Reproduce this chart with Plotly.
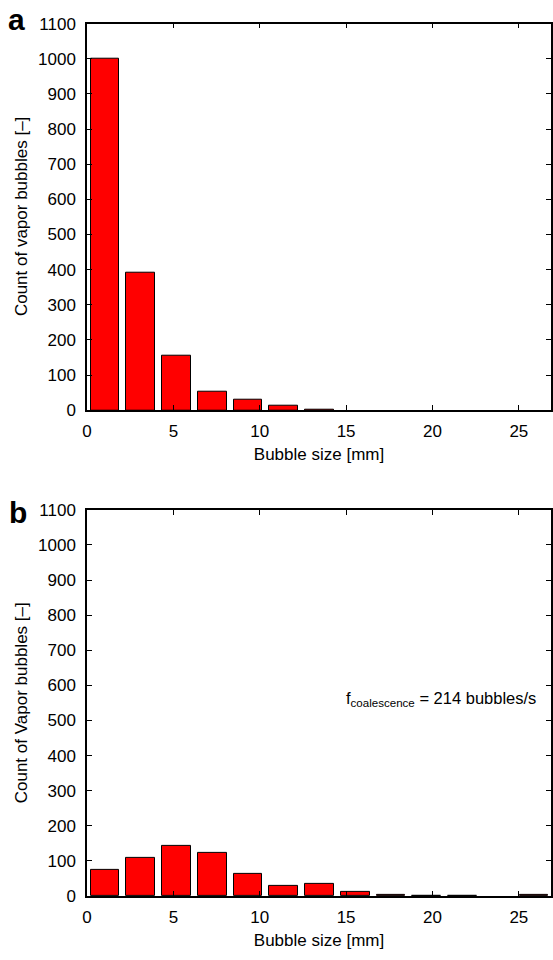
import plotly.graph_objects as go

# ---- data ----
bubble_size_mm = [1.04, 3.11, 5.18, 7.25, 9.32, 11.39, 13.46, 15.53, 17.60, 19.67, 21.74, 23.81, 25.88]
count_a = [1000, 391, 154, 52, 29, 12, 2, 0, 0, 0, 0, 0, 0]
count_b = [74, 110, 142, 124, 63, 29, 35, 11, 3, 1, 2, 0, 3]
x_tick_vals = [0, 5, 10, 15, 20, 25]
y_tick_vals = [0, 100, 200, 300, 400, 500, 600, 700, 800, 900, 1000, 1100]
x_title = "Bubble size [mm]"
y_title_a = "Count of vapor bubbles [\u2013]"
y_title_b = "Count of Vapor bubbles [\u2013]"
annotation_b = "f<sub>coalescence</sub> = 214 bubbles/s"

BAR_W = 1.66
FONT = "Liberation Sans, Arial, Helvetica, sans-serif"
H = 960.0
L = 87.0
PW = 553.0 - L

def py(px):  # pixel row -> paper y
    return 1 - px / H

def px_(x):  # pixel column -> paper x
    return (x - L) / PW

fig = go.Figure()
for vals, xa, ya in [(count_a, "x", "y"), (count_b, "x2", "y2")]:
    fig.add_trace(go.Bar(
        x=bubble_size_mm, y=vals, width=[BAR_W] * len(vals),
        marker=dict(color="#ff0000",
                    line=dict(color="black", width=[1 if v > 0 else 0 for v in vals])),
        xaxis=xa, yaxis=ya, showlegend=False, hoverinfo="skip"))

axis_common = dict(showline=True, linecolor="black", linewidth=1.5, mirror="ticks",
                   ticks="inside", ticklen=5, tickwidth=1, tickcolor="black",
                   showgrid=False, zeroline=False,
                   tickfont=dict(size=17, family=FONT, color="black"))

xr = [0, 26.86]
fig.update_layout(
    width=553, height=960,
    margin=dict(l=87, r=0, t=0, b=0),
    paper_bgcolor="white", plot_bgcolor="white",
    font=dict(family=FONT, size=17, color="black"),
    bargap=0,
    xaxis=dict(domain=[0, 1], range=xr, tickvals=x_tick_vals, anchor="y",
               ticklabelstandoff=5,
               title=dict(text=x_title, standoff=8, font=dict(size=17)), **axis_common),
    yaxis=dict(domain=[py(409.3), py(15)], range=[0, 1100], tickvals=y_tick_vals, anchor="x",
               ticklabelstandoff=6, **axis_common),
    xaxis2=dict(domain=[0, 1], range=xr, tickvals=x_tick_vals, anchor="y2",
                ticklabelstandoff=5,
                title=dict(text=x_title, standoff=8, font=dict(size=17)), **axis_common),
    yaxis2=dict(domain=[py(905), py(511)], range=[0, 1100], tickvals=y_tick_vals, anchor="x2",
                ticklabelstandoff=6, **axis_common),
)

# y-axis titles as rotated annotations
fig.add_annotation(text=y_title_a, xref="paper", yref="paper", x=px_(22), y=py(212),
                   xanchor="center", yanchor="middle", textangle=-90, showarrow=False,
                   font=dict(size=17, family=FONT, color="black"))
fig.add_annotation(text=y_title_b, xref="paper", yref="paper", x=px_(22), y=py(708),
                   xanchor="center", yanchor="middle", textangle=-90, showarrow=False,
                   font=dict(size=17, family=FONT, color="black"))

# panel letters
fig.add_annotation(text="<b>a</b>", xref="paper", yref="paper", x=px_(16), y=py(11),
                   xanchor="center", yanchor="middle", showarrow=False,
                   font=dict(size=30, family=FONT, color="black"))
fig.add_annotation(text="<b>b</b>", xref="paper", yref="paper", x=px_(18), y=py(514),
                   xanchor="center", yanchor="middle", showarrow=False,
                   font=dict(size=30, family=FONT, color="black"))

# coalescence frequency note in panel b
fig.add_annotation(text=annotation_b, xref="x2", yref="y2", x=26.12, y=560,
                   xanchor="right", yanchor="middle", showarrow=False,
                   font=dict(size=16.5, family=FONT, color="black"))

fig.write_html("out.html")
